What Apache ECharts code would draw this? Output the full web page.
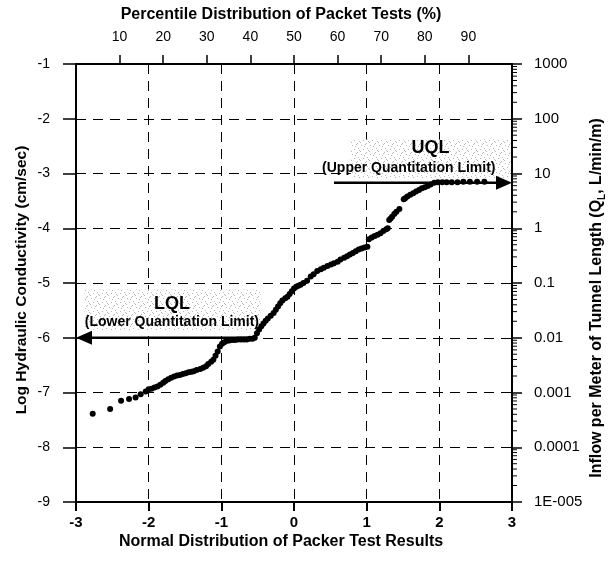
<!DOCTYPE html>
<html><head><meta charset="utf-8">
<script src="https://cdn.jsdelivr.net/npm/echarts@6/dist/echarts.min.js"></script>
<style>html,body{margin:0;padding:0;background:#fff}#c{width:611px;height:563px}</style>
</head><body><div id="c"></div>
<script>
// ---- data ----
const normalScores = [
 -2.77,-2.53,-2.38,-2.27,-2.18,-2.11,-2.04,-2.00,-1.96,-1.92,-1.88,-1.84,-1.80,-1.77,-1.73,-1.69,-1.65,-1.61,
 -1.57,-1.53,-1.49,-1.45,-1.41,-1.38,-1.34,-1.29,-1.25,-1.21,-1.18,-1.14,-1.11,-1.08,-1.05,-1.02,-0.99,-0.96,
 -0.93,-0.89,-0.85,-0.81,-0.77,-0.73,-0.69,-0.65,-0.61,-0.57,-0.54,-0.51,-0.48,-0.45,-0.42,-0.39,-0.36,-0.32,
 -0.28,-0.25,-0.22,-0.19,-0.16,-0.12,-0.09,-0.06,-0.03,0.00,0.03,0.06,0.09,0.13,0.18,0.23,0.27,0.32,0.37,0.41,
 0.46,0.51,0.55,0.60,0.64,0.69,0.73,0.77,0.81,0.85,0.89,0.93,0.97,1.01,1.03,1.07,1.11,1.15,1.19,1.23,1.27,1.29,
 1.31,1.33,1.35,1.38,1.41,1.45,1.51,1.53,1.56,1.60,1.64,1.68,1.72,1.76,1.80,1.84,1.88,1.93,1.98,2.04,2.10,2.17,
 2.25,2.33,2.42,2.52,2.62
];
const logConductivity = [
 -7.39,-7.30,-7.15,-7.12,-7.09,-7.03,-6.98,-6.94,-6.93,-6.91,-6.89,-6.86,-6.82,-6.79,-6.76,-6.73,-6.71,-6.69,
 -6.68,-6.66,-6.65,-6.63,-6.62,-6.61,-6.59,-6.57,-6.55,-6.52,-6.48,-6.44,-6.40,-6.33,-6.25,-6.16,-6.11,-6.08,
 -6.06,-6.05,-6.04,-6.04,-6.03,-6.03,-6.03,-6.03,-6.02,-6.02,-6.00,-5.92,-5.85,-5.79,-5.74,-5.69,-5.65,-5.60,
 -5.55,-5.49,-5.43,-5.37,-5.32,-5.28,-5.25,-5.20,-5.15,-5.10,-5.07,-5.05,-5.03,-5.00,-4.96,-4.88,-4.84,-4.78,-4.75,-4.72,
 -4.69,-4.66,-4.64,-4.61,-4.57,-4.54,-4.51,-4.48,-4.45,-4.42,-4.39,-4.37,-4.35,-4.34,-4.20,-4.17,-4.14,-4.12,-4.09,-4.05,-4.02,-4.00,
 -3.85,-3.82,-3.79,-3.74,-3.70,-3.65,-3.47,-3.45,-3.42,-3.39,-3.36,-3.33,-3.30,-3.27,-3.25,-3.23,-3.20,-3.17,-3.16,-3.16,-3.16,-3.16,
 -3.16,-3.15,-3.15,-3.15,-3.15
];
const percentileTicks = [10,20,30,40,50,60,70,80,90];
const inflowTickLabels = ['1E-005','0.0001','0.001','0.01','0.1','1','10','100','1000']; // log10 = -5 .. 3
// arrows: [fromX, level, toX]
const lqlArrow = [-0.55, -6.0, -3.0];
const uqlArrow = [0.55, -3.17, 3.0];
// annotation boxes: [x1, y1, x2, y2, titleX, titleY, subX, subY]
const lqlBox = [-2.88, -5.12, -0.46, -5.86, -1.68, -5.38, -1.68, -5.72];
const uqlBox = [0.78, -2.38, 2.98, -3.08, 1.88, -2.53, 1.58, -2.90];

// ---- chart ----
const FONT = '"Liberation Sans", Arial, sans-serif';
const points = normalScores.map((x, i) => [x, logConductivity[i]]);

// stipple pattern for label boxes
const pc = document.createElement('canvas'); pc.width = 9; pc.height = 9;
const g = pc.getContext('2d'); g.fillStyle = '#ffffff'; g.fillRect(0, 0, 9, 9);
g.fillStyle = '#b8b8b8';
[[1,1],[5,0],[7,4],[3,5],[0,7],[6,8],[4,2],[8,6]].forEach(([a,b]) => g.fillRect(a, b, 1, 1));

// minor ticks of the log (right) axis
const minorLog = [];
for (let n = -5; n < 3; n++) for (let k = 2; k <= 9; k++) minorLog.push([3, n + Math.log10(k)]);

const chart = echarts.init(document.getElementById('c'), null, {renderer: 'canvas'});
chart.setOption({
  backgroundColor: '#ffffff',
  animation: false,
  grid: {left: 76, right: 99, top: 64, bottom: 61, containLabel: false},
  xAxis: [{
    type: 'value', position: 'bottom', min: -3, max: 3, interval: 1,
    axisLine: {show: true, onZero: false, lineStyle: {color: '#000', width: 2}},
    axisTick: {show: true, inside: false, length: 9, lineStyle: {color: '#000', width: 2}},
    axisLabel: {color: '#000', fontSize: 15, fontWeight: 'bold', fontFamily: FONT, margin: 13},
    splitLine: {show: true, lineStyle: {color: '#000', width: 1, type: [10, 7]}}
  }, {
    type: 'value', position: 'top', min: 0, max: 100, interval: 10,
    axisLine: {show: true, onZero: false, lineStyle: {color: '#000', width: 2}},
    axisTick: {show: true, length: 9, customValues: percentileTicks, lineStyle: {color: '#000', width: 1.5}},
    axisLabel: {color: '#000', fontSize: 14, fontFamily: FONT, margin: 20, customValues: percentileTicks},
    splitLine: {show: false}
  }],
  yAxis: [{
    type: 'value', position: 'left', min: -9, max: -1, interval: 1,
    axisLine: {show: true, onZero: false, lineStyle: {color: '#000', width: 2}},
    axisTick: {show: true, length: 13, lineStyle: {color: '#000', width: 1.5}},
    axisLabel: {color: '#000', fontSize: 14, fontFamily: FONT, margin: 26},
    splitLine: {show: true, lineStyle: {color: '#000', width: 1, type: [10, 7]}}
  }, {
    type: 'value', position: 'right', min: -5, max: 3, interval: 1,
    axisLine: {show: true, onZero: false, lineStyle: {color: '#000', width: 2}},
    axisTick: {show: true, length: 10, lineStyle: {color: '#000', width: 1.5}},
    axisLabel: {color: '#000', fontSize: 15, fontFamily: FONT, margin: 22,
      formatter: v => inflowTickLabels[Math.round(v) + 5]},
    splitLine: {show: false}
  }],
  graphic: [
    {type: 'text', x: 281, y: 15, style: {text: 'Percentile Distribution of Packet Tests (%)', font: 'bold 16px ' + FONT, fill: '#000', align: 'center', verticalAlign: 'middle'}},
    {type: 'text', x: 281, y: 542, style: {text: 'Normal Distribution of Packer Test Results', font: 'bold 16px ' + FONT, fill: '#000', align: 'center', verticalAlign: 'middle'}},
    {type: 'text', x: 22, y: 280, rotation: Math.PI / 2, style: {text: 'Log Hydraulic Conductivity (cm/sec)', font: 'bold 15.5px ' + FONT, fill: '#000', align: 'center', verticalAlign: 'middle'}},
    {type: 'text', x: 597, y: 298, rotation: Math.PI / 2, style: {
      text: '{b|Inflow per Meter of Tunnel Length (Q}{s|L}{b|, L/min/m)}',
      align: 'center', verticalAlign: 'middle',
      rich: {
        b: {fontSize: 16, fontWeight: 'bold', fontFamily: FONT, fill: '#000', lineHeight: 20},
        s: {fontSize: 10, fontWeight: 'bold', fontFamily: FONT, fill: '#000', verticalAlign: 'bottom', lineHeight: 20}
      }}}
  ],
  series: [{
    type: 'custom', name: 'boxes', coordinateSystem: 'cartesian2d', xAxisIndex: 0, yAxisIndex: 0,
    silent: true, z: 1,
    data: [lqlBox, uqlBox],
    encode: {x: [0, 2], y: [1, 3]},
    renderItem: (params, api) => {
      const item = params.dataIndex === 0 ? {t: 'LQL', s: '(Lower Quantitation Limit)'} : {t: 'UQL', s: '(Upper Quantitation Limit)'};
      const p1 = api.coord([api.value(0), api.value(1)]);
      const p2 = api.coord([api.value(2), api.value(3)]);
      const pt = api.coord([api.value(4), api.value(5)]);
      const ps = api.coord([api.value(6), api.value(7)]);
      return {type: 'group', children: [
        {type: 'rect', shape: {x: p1[0], y: p1[1], width: p2[0] - p1[0], height: p2[1] - p1[1]},
         style: {fill: {image: pc, repeat: 'repeat'}}},
        {type: 'text', x: pt[0], y: pt[1], style: {text: item.t, font: 'bold 18px ' + FONT, fill: '#000', align: 'center', verticalAlign: 'middle'}},
        {type: 'text', x: ps[0], y: ps[1], style: {text: item.s, font: 'bold 14px ' + FONT, fill: '#000', align: 'center', verticalAlign: 'middle'}}
      ]};
    }
  }, {
    type: 'scatter', name: 'Packer tests', xAxisIndex: 0, yAxisIndex: 0,
    data: points, symbol: 'circle', symbolSize: 6, z: 3,
    itemStyle: {color: '#000', opacity: 1}
  }, {
    type: 'custom', name: 'limits', coordinateSystem: 'cartesian2d', xAxisIndex: 0, yAxisIndex: 0,
    silent: true, clip: false, z: 5,
    data: [lqlArrow, uqlArrow],
    encode: {x: [0, 2], y: 1},
    renderItem: (params, api) => {
      const a = api.coord([api.value(0), api.value(1)]);
      const b = api.coord([api.value(2), api.value(1)]);
      const dir = b[0] > a[0] ? 1 : -1;
      const L = 16, W = 7;
      return {type: 'group', children: [
        {type: 'line', shape: {x1: a[0], y1: a[1], x2: b[0] - dir * L, y2: b[1]}, style: {stroke: '#000', lineWidth: 2.5}},
        {type: 'polygon', shape: {points: [[b[0], b[1]], [b[0] - dir * L, b[1] - W], [b[0] - dir * L, b[1] + W]]}, style: {fill: '#000'}}
      ]};
    }
  }, {
    type: 'custom', name: 'logMinorTicks', coordinateSystem: 'cartesian2d', xAxisIndex: 0, yAxisIndex: 1,
    silent: true, clip: false, z: 4,
    data: minorLog,
    renderItem: (params, api) => {
      const p = api.coord([api.value(0), api.value(1)]);
      return {type: 'line', shape: {x1: p[0], y1: p[1], x2: p[0] + 5, y2: p[1]}, style: {stroke: '#000', lineWidth: 1}};
    }
  }]
});
</script>
</body></html>
